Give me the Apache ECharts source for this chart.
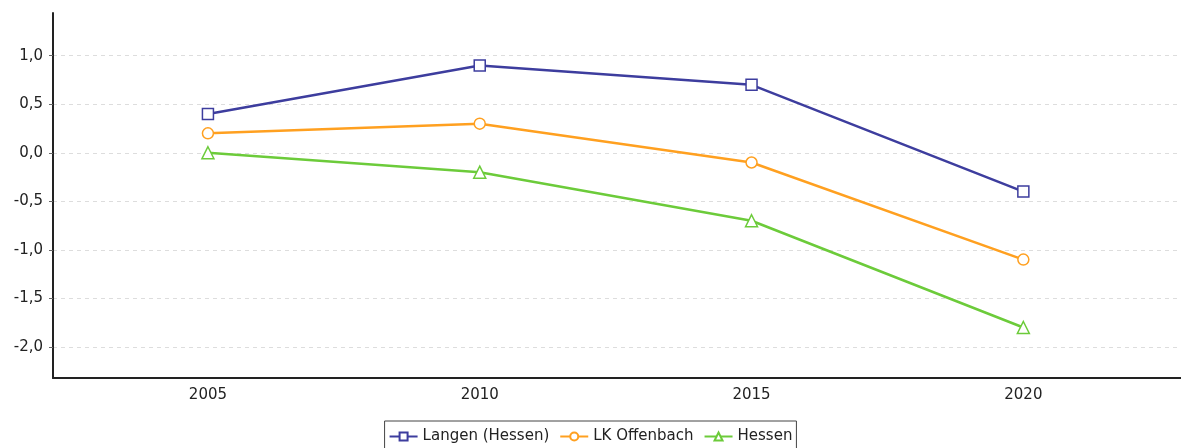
<!DOCTYPE html>
<html><head><meta charset="utf-8">
<script src="https://cdn.jsdelivr.net/npm/echarts@6/dist/echarts.min.js"></script>
<style>html,body{margin:0;padding:0;background:#fff}#c{width:1181px;height:448px}</style>
</head><body><div id="c"></div>
<script>
const years = [2005, 2010, 2015, 2020];
const langen = [0.4, 0.9, 0.7, -0.4];
const lkOffenbach = [0.2, 0.3, -0.1, -1.1];
const hessen = [0.0, -0.2, -0.7, -1.8];
const yTicks = [-2.0, -1.5, -1.0, -0.5, 0.0, 0.5, 1.0];
const seriesNames = ['Langen (Hessen)', 'LK Offenbach', 'Hessen'];

const font = 'DejaVu Sans';
function pts(vals){ return years.map((y,i)=>[y, vals[i]]); }
function mk(name, vals, color, symbol){
  return {name, type:'line', data:pts(vals), symbol, symbolSize: symbol==='triangle'?12:11,
    lineStyle:{color, width:2.5}, itemStyle:{color:'#fff', borderColor:color, borderWidth:1.5},
    emphasis:{disabled:true}, animation:false};
}
const chart = echarts.init(document.getElementById('c'));
chart.setOption({
  animation:false,
  grid:{left:53, right:0, top:13, bottom:70},
  legend:{top:421, left:'center', padding:[8,4,6,4], itemGap:10, itemWidth:28, itemHeight:10,
    borderColor:'#444', borderWidth:1, borderRadius:0,
    textStyle:{fontFamily:font, fontSize:15, color:'#222', padding:[0,0,0,0]}, data:seriesNames},
  xAxis:{type:'value', min:2002.15, max:2022.9,
    axisLine:{show:true, onZero:false, lineStyle:{color:'#222', width:2}},
    axisTick:{show:false},
    splitLine:{show:false},
    axisLabel:{customValues:years, formatter:v=>String(v), fontFamily:font, fontSize:15, color:'#222', margin:10}},
  yAxis:{type:'value', min:-2.32, max:1.44,
    axisLine:{show:true, onZero:false, lineStyle:{color:'#222', width:2}},
    axisTick:{show:true, customValues:yTicks, length:4, lineStyle:{color:'#666'}},
    splitLine:{show:true, lineStyle:{color:'#ddd', type:[4,4], width:1}},
    axisLabel:{customValues:yTicks, formatter:v=>v.toFixed(1).replace('.',','), fontFamily:font, fontSize:15, color:'#222', margin:10}},
  series:[
    mk(seriesNames[0], langen, '#3d3d9e', 'rect'),
    mk(seriesNames[1], lkOffenbach, '#ffa020', 'circle'),
    mk(seriesNames[2], hessen, '#6ccb3a', 'triangle')
  ]
});
</script></body></html>
